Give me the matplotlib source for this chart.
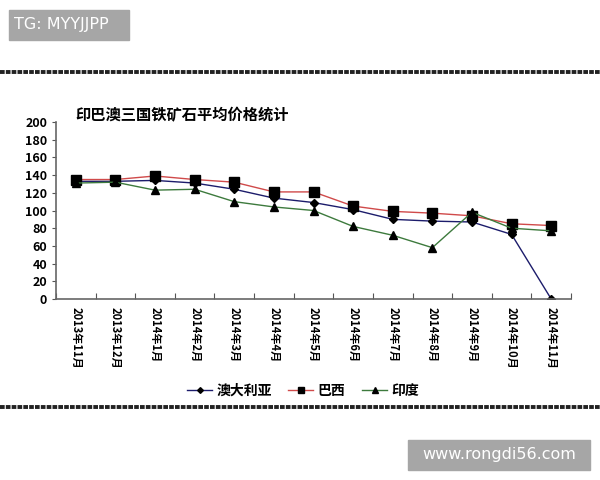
import matplotlib
matplotlib.use("Agg")
import matplotlib.pyplot as plt
from matplotlib.patches import Rectangle
from matplotlib.lines import Line2D

plt.rcParams['font.family'] = ['Noto Sans CJK SC', 'DejaVu Sans']

# data
months = ['2013年11月', '2013年12月', '2014年1月', '2014年2月', '2014年3月', '2014年4月',
          '2014年5月', '2014年6月', '2014年7月', '2014年8月', '2014年9月', '2014年10月', '2014年11月']
australia = [133, 133, 134, 131, 124, 114, 109, 101, 90, 88, 87, 73, 0]
brazil = [135, 135, 139, 135, 132, 121, 121, 105, 99, 97, 94, 85, 83]
india = [131, 132, 123, 124, 110, 104, 100, 82, 72, 58, 98, 80, 77]

fig = plt.figure(figsize=(6, 4.8), dpi=100)

# watermark boxes and rules
fig.patches.append(Rectangle((9 / 600, 1 - 40 / 480), 120 / 600, 30 / 480,
                             transform=fig.transFigure, color='#a6a6a6', zorder=0))
fig.text(14 / 600, 1 - 25 / 480, 'TG: MYYJJPP', color='white', fontsize=11.5,
         va='center', ha='left', family='DejaVu Sans')
fig.patches.append(Rectangle((408 / 600, 1 - 470 / 480), 182 / 600, 30 / 480,
                             transform=fig.transFigure, color='#a6a6a6', zorder=0))
fig.text(499 / 600, 1 - 455 / 480, 'www.rongdi56.com', color='white', fontsize=11.5,
         va='center', ha='center', family='DejaVu Sans')
for yy in (72, 407):
    fig.lines.append(Line2D([0, 1], [1 - yy / 480] * 2, transform=fig.transFigure,
                            color='#222222', lw=2.8, ls=(0, (1.2, 0.3))))

fig.text(75 / 600, 1 - 115 / 480, '印巴澳三国铁矿石平均价格统计', fontsize=11,
         fontweight='bold', va='center', ha='left')

ax = fig.add_axes([56 / 600, 1 - 299 / 480, 515 / 600, 177 / 480])
x = list(range(len(months)))
ax.plot(x, australia, color='#1c1c6b', lw=1, marker='D', ms=4.5, mfc='black', mec='black',
        label='澳大利亚')
ax.plot(x, brazil, color='#d04a4a', lw=1, marker='s', ms=6.5, mfc='black', mec='black',
        label='巴西')
ax.plot(x, india, color='#3d7a3d', lw=1, marker='^', ms=6, mfc='black', mec='black',
        label='印度')

ax.set_xlim(-0.5, len(months) - 0.5)
ax.set_ylim(0, 200)
ax.set_yticks(range(0, 201, 20))
ax.set_xticks([i + 0.5 for i in range(-1, len(months))], minor=False)
ax.set_xticklabels([])
ax.set_xticks(x, minor=True)
ax.set_xticklabels(months, minor=True, rotation=270, fontsize=8, fontweight='bold')
ax.tick_params(axis='x', which='minor', length=0, pad=6)
ax.tick_params(axis='x', which='major', length=4, direction='in', color='#555555')
ax.tick_params(axis='y', length=3, direction='out', color='#555555', labelsize=9)
for lab in ax.get_yticklabels():
    lab.set_fontweight('bold')
for s in ('top', 'right'):
    ax.spines[s].set_visible(False)
for s in ('left', 'bottom'):
    ax.spines[s].set_color('#666666')
    ax.spines[s].set_linewidth(1.2)

leg = fig.legend(loc='center', bbox_to_anchor=(303 / 600, 1 - 391 / 480), ncol=3,
                 frameon=False, handlelength=1.8, columnspacing=1.2, markerscale=0.65,
                 handletextpad=0.3, prop={'weight': 'bold', 'size': 10})

fig.savefig('out.png', dpi=100, facecolor='white')
